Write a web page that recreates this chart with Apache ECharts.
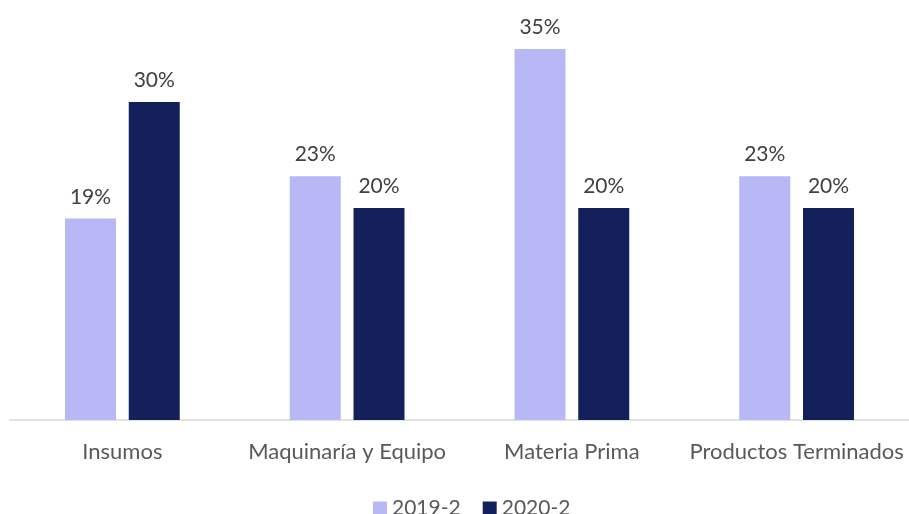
<!DOCTYPE html>
<html>
<head>
<meta charset="utf-8">
<script src="https://cdn.jsdelivr.net/npm/echarts@6/dist/echarts.min.js"></script>
<style>
  html, body { margin: 0; padding: 0; background: #fff; }
  #chart { width: 909px; height: 514px; }
</style>
</head>
<body>
<div id="chart"></div>
<script>
  // datos
  var categorias = ['Insumos', 'Maquinaría y Equipo', 'Materia Prima', 'Productos Terminados'];
  var serie2019 = [19, 23, 35, 23];
  var serie2020 = [30, 20, 20, 20];
  var nombres = ['2019-2', '2020-2'];

  var chart = echarts.init(document.getElementById('chart'));
  var fuente = 'Lato';

  function etiqueta() {
    return {
      show: true,
      position: 'top',
      distance: 11,
      formatter: '{c}%',
      color: '#404040',
      fontSize: 21,
      fontFamily: fuente
    };
  }

  chart.setOption({
    animation: false,
    color: ['#b8b8f6', '#14205c'],
    legend: {
      data: nombres,
      top: 493,
      left: 368,
      itemWidth: 14,
      itemHeight: 14,
      itemGap: 22,
      icon: 'rect',
      textStyle: { color: '#595959', fontSize: 21, fontFamily: fuente }
    },
    grid: {
      left: 10,
      width: 901,
      top: 49,
      bottom: 94
    },
    xAxis: {
      type: 'category',
      data: categorias,
      axisLine: { lineStyle: { color: '#d9d9d9', width: 1.5 } },
      axisTick: { show: false },
      axisLabel: {
        color: '#595959',
        fontSize: 22,
        fontFamily: fuente,
        margin: 21,
        interval: 0
      }
    },
    yAxis: {
      type: 'value',
      min: 0,
      max: 35,
      show: false,
      splitLine: { show: false }
    },
    series: [
      {
        name: nombres[0],
        type: 'bar',
        data: serie2019,
        barWidth: 51,
        barGap: '25%',
        label: etiqueta()
      },
      {
        name: nombres[1],
        type: 'bar',
        data: serie2020,
        barWidth: 51,
        label: etiqueta()
      }
    ]
  });
</script>
</body>
</html>
